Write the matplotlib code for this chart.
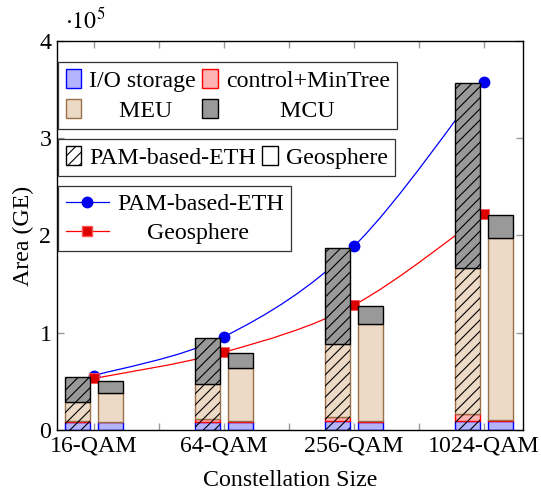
import numpy as np
import matplotlib
matplotlib.use("Agg")
import matplotlib.pyplot as plt
from matplotlib.patches import Patch, PathPatch
from matplotlib.lines import Line2D
from matplotlib.path import Path

plt.rcParams['font.family'] = ['Liberation Serif', 'DejaVu Serif']
plt.rcParams['mathtext.fontset'] = 'stix'
plt.rcParams['font.size'] = 17.2
plt.rcParams['hatch.linewidth'] = 0.8

# data (area in GE)
sizes = ['16-QAM', '64-QAM', '256-QAM', '1024-QAM']

pam_io = [8000, 8500, 9000, 9000]
pam_ctrl = [1000, 2500, 4000, 7500]
pam_meu = [20000, 36300, 75100, 149800]
pam_mcu = [25000, 47000, 98700, 190200]

geo_io = [8000, 8500, 8500, 9000]
geo_ctrl = [500, 600, 700, 800]
geo_meu = [29200, 54300, 99500, 187300]
geo_mcu = [13000, 15500, 18800, 23900]

pam_total_line = [56000, 96000, 189000, 358000]
geo_total_line = [53000, 80000, 128500, 222000]

c_io = ('#b3b3ff', '#0000ff')
c_ctrl = ('#ffb3b3', '#ff0000')
c_meu = ('#ecd9c6', '#9a7048')
c_mcu = ('#999999', '#000000')


def smooth_path(xs, ys):
    # catmull-rom style bezier through the points (like pgfplots "smooth")
    pts = np.column_stack([xs, ys]).astype(float)
    ext = np.vstack([pts[0], pts, pts[-1]])
    verts = [pts[0]]
    codes = [Path.MOVETO]
    for i in range(len(pts) - 1):
        p0, p1, p2, p3 = ext[i], ext[i + 1], ext[i + 2], ext[i + 3]
        verts += [p1 + (p2 - p0) / 6, p2 - (p3 - p1) / 6, p2]
        codes += [Path.CURVE4] * 3
    return Path(verts, codes)


fig = plt.figure(figsize=(5.41, 4.94), dpi=100)
ax = fig.add_axes([0.1054, 0.1296, 0.8613, 0.7874])

x = np.arange(len(sizes))
w = 0.19
off = 0.127

# lines behind the bars
ax.add_patch(PathPatch(smooth_path(x, pam_total_line), fill=False,
                       edgecolor='#0000ff', lw=0.9, zorder=1))
ax.add_patch(PathPatch(smooth_path(x, geo_total_line), fill=False,
                       edgecolor='#ff0000', lw=0.9, zorder=1))
ax.plot(x, pam_total_line, ls='none', marker='o', ms=7.5, color='#0000ee',
        zorder=1.2)
ax.plot(x, geo_total_line, ls='none', marker='s', ms=7, color='#dd0000',
        mec='#ff5555', mew=0.6, zorder=1.3)


def stack(xpos, parts):
    bottom = np.zeros(len(xpos))
    for vals, (fc, ec) in parts:
        ax.bar(xpos, vals, w, bottom=bottom, facecolor=fc, edgecolor=ec,
               lw=1.0, zorder=2)
        bottom = bottom + np.array(vals)
    return bottom


pam_top = stack(x - off, [(pam_io, c_io), (pam_ctrl, c_ctrl),
                          (pam_meu, c_meu), (pam_mcu, c_mcu)])
ax.bar(x - off, pam_top, w, facecolor='none', edgecolor='black', hatch='///',
       lw=0, zorder=2.5)
stack(x + off, [(geo_io, c_io), (geo_ctrl, c_ctrl),
                (geo_meu, c_meu), (geo_mcu, c_mcu)])

ax.set_xlim(-0.285, 3.3)
ax.set_ylim(0, 4e5)
ax.set_xticks(x)
ax.set_xticklabels(sizes)
ax.set_xticks([0.5, 1.5, 2.5], minor=True)
ax.set_yticks([0, 1e5, 2e5, 3e5, 4e5])
ax.set_yticklabels(['0', '1', '2', '3', '4'])
ax.tick_params(which='both', direction='in', length=5, width=1,
               color='#999999', top=True, right=True, pad=4)
for s in ax.spines.values():
    s.set_linewidth(1.0)

ax.set_xlabel('Constellation Size', labelpad=10)
ax.set_ylabel('Area (GE)', labelpad=4)
ax.text(0.017, 1.031, r'$\cdot 10^{5}$', transform=ax.transAxes,
        fontsize=17.2, ha='left', va='baseline')

# legends
lkw = dict(loc='upper left', frameon=True, fancybox=False, framealpha=1,
           edgecolor='#333333', borderaxespad=0, handletextpad=0.35,
           columnspacing=0.25, borderpad=0.3, labelspacing=0.3)

h1 = [Patch(facecolor=c_io[0], edgecolor=c_io[1]),
      Patch(facecolor=c_meu[0], edgecolor=c_meu[1]),
      Patch(facecolor=c_ctrl[0], edgecolor=c_ctrl[1]),
      Patch(facecolor=c_mcu[0], edgecolor=c_mcu[1])]
l1 = ['I/O storage', '     MEU', 'control+MinTree', '         MCU']
leg1 = ax.legend(h1, l1, ncol=2, bbox_to_anchor=(0.003, 0.946),
                 handlelength=0.65, handleheight=0.85, **lkw)
leg1.get_frame().set_linewidth(0.9)
ax.add_artist(leg1)

h2 = [Patch(facecolor='white', edgecolor='black', hatch='///'),
      Patch(facecolor='white', edgecolor='black')]
leg2 = ax.legend(h2, ['PAM-based-ETH', 'Geosphere'], ncol=2,
                 bbox_to_anchor=(0.003, 0.748), handlelength=0.65,
                 handleheight=0.85, **lkw)
leg2.get_frame().set_linewidth(0.9)
ax.add_artist(leg2)

h3 = [Line2D([], [], color='#0000ff', lw=0.9, marker='o', ms=7.5,
             mfc='#0000ee', mec='#0000ee'),
      Line2D([], [], color='#ff0000', lw=0.9, marker='s', ms=7,
             mfc='#dd0000', mec='#ff5555')]
leg3 = ax.legend(h3, ['PAM-based-ETH', '     Geosphere'],
                 bbox_to_anchor=(0.003, 0.627), handlelength=1.8, **lkw)
leg3.get_frame().set_linewidth(0.9)

fig.savefig('out.png', dpi=100)
